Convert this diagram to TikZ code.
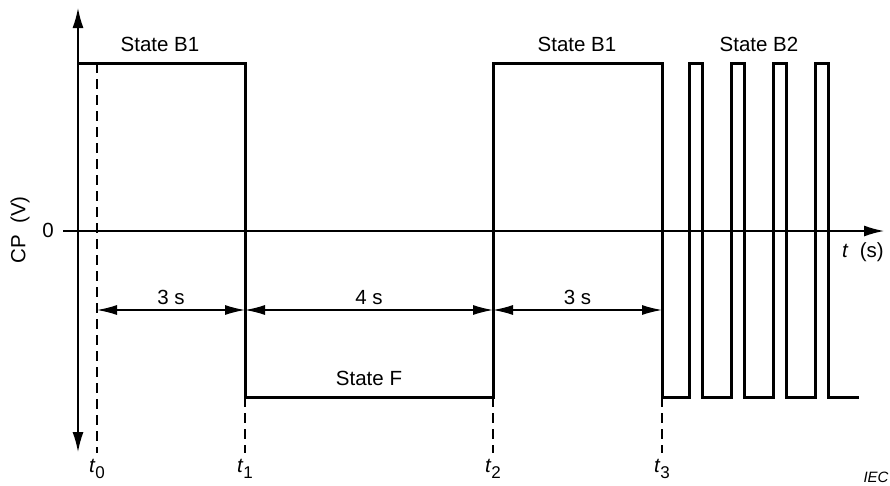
\documentclass[tikz,border=0pt]{standalone}
\usepackage{fontspec}
\setmainfont{Liberation Sans}
\usetikzlibrary{arrows.meta}
\begin{document}
\begin{tikzpicture}[x=1pt,y=-1pt,
  lbl/.style={font=\fontsize{20.5}{24}\selectfont, inner sep=0pt},
  sig/.style={line width=3pt, line join=miter, line cap=rect},
  axisline/.style={line width=1.5pt},
  dimline/.style={line width=1.3pt, {Latex[length=20pt,width=10pt]}-{Latex[length=20pt,width=10pt]}},
  guide/.style={line width=1.5pt, dash pattern=on 10pt off 6pt}]
\useasboundingbox (0,0) rectangle (890,485);

% axes
\coordinate (ytop) at (78,8);
\coordinate (ybot) at (78,452);
\coordinate (xleft) at (63,231);
\coordinate (xright) at (884,231);
\draw[axisline, {Latex[length=20pt,width=11pt]}-{Latex[length=20pt,width=11pt]}] (ybot) -- (ytop);
\draw[axisline, -{Latex[length=20pt,width=11pt]}] (xleft) -- (xright);

% time marks
\coordinate (t0hi) at (97,63);
\coordinate (t0lo) at (97,453);
\coordinate (t1a) at (245,397);
\coordinate (t1b) at (245,453);
\coordinate (t2a) at (493,397);
\coordinate (t2b) at (493,453);
\coordinate (t3a) at (662,397);
\coordinate (t3b) at (662,453);
\draw[guide] (t0hi) -- (t0lo);
\draw[guide] (t1a) -- (t1b);
\draw[guide] (t2a) -- (t2b);
\draw[guide] (t3a) -- (t3b);

% signal
\draw[sig] (78,63) -- (245,63) -- (245,397) -- (493,397) -- (493,63) -- (662,63) -- (662,397)
  -- (689,397) -- (689,63) -- (702,63) -- (702,397)
  -- (731,397) -- (731,63) -- (744,63) -- (744,397)
  -- (773,397) -- (773,63) -- (786,63) -- (786,397)
  -- (815,397) -- (815,63) -- (828,63) -- (828,397)
  -- (857,397);

% dimension arrows
\coordinate (d0) at (97,310);
\coordinate (d1) at (245,310);
\coordinate (d2) at (493,310);
\coordinate (d3) at (662,310);
\draw[dimline] (d0) -- node[lbl, above=5pt] {3 s} (d1);
\draw[dimline] (d1) -- node[lbl, above=5pt] {4 s} (d2);
\draw[dimline] (d2) -- node[lbl, above=5pt] {3 s} (d3);

% labels
\node[lbl] (sb1a) at (160,44) {State B1};
\node[lbl] (sb1b) at (577,44) {State B1};
\node[lbl] (sb2) at (759,44) {State B2};
\node[lbl] (sf) at (369,378) {State F};
\node[lbl] (zero) at (48,230) {0};
\node[lbl, rotate=90] (cp) at (20,230) {CP\ \ (V)};
\node[lbl, anchor=east] (ts) at (884,252) {\textit{t}\ \ (s)};

\newcommand{\tlab}[1]{\textit{t}\raisebox{-6pt}{\fontsize{17}{20}\selectfont #1}}
\node[lbl] (lt0) at (97,469) {\tlab{0}};
\node[lbl] (lt1) at (245,469) {\tlab{1}};
\node[lbl] (lt2) at (493,469) {\tlab{2}};
\node[lbl] (lt3) at (662,469) {\tlab{3}};

\node[font=\fontsize{15}{18}\selectfont\itshape, inner sep=0pt] (iec) at (876,477) {IEC};
\end{tikzpicture}
\end{document}
